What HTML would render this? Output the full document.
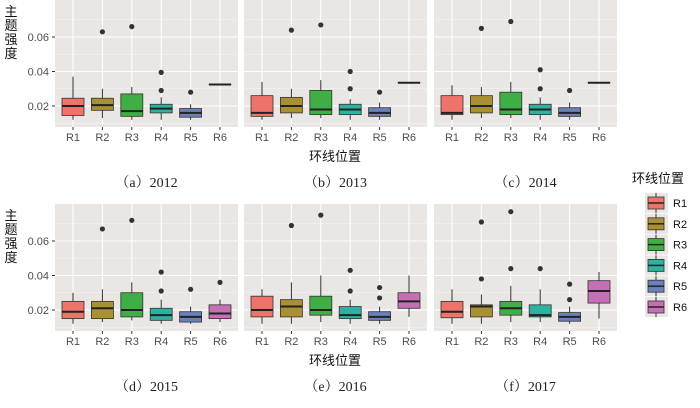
<!DOCTYPE html>
<html><head><meta charset="utf-8"><style>
body{margin:0;background:#fff;width:700px;height:403px;overflow:hidden}
svg text{font-family:"Liberation Sans","Noto Sans CJK SC",sans-serif}
</style></head><body>
<svg id="s" width="700" height="403" xmlns="http://www.w3.org/2000/svg"></svg>
<script>
const S=document.getElementById('s');let h='';
const cols=['#ee736b','#a99033','#3fae45','#2bb3a0','#6a80b8','#c56fb5'];
const px=[55,244,434],pw=183;
const data=[
[[.012,.0145,.020,.0245,.037,[]],[.013,.0175,.0205,.0245,.030,[.063]],[.012,.014,.017,.027,.031,[.066]],[.012,.016,.0185,.021,.025,[.029,.0395]],[.012,.0135,.016,.0185,.021,[.028]],[.0325,.0325,.0325,.0325,.0325,[]]],
[[.012,.014,.016,.026,.034,[]],[.013,.016,.020,.025,.030,[.064]],[.013,.015,.018,.029,.035,[.067]],[.012,.015,.018,.021,.024,[.030,.040]],[.012,.014,.016,.019,.022,[.028]],[.0335,.0335,.0335,.0335,.0335,[]]],
[[.012,.015,.016,.026,.032,[]],[.013,.016,.020,.026,.031,[.065]],[.013,.015,.018,.028,.034,[.069]],[.012,.015,.018,.021,.025,[.030,.041]],[.012,.014,.016,.019,.022,[.029]],[.0335,.0335,.0335,.0335,.0335,[]]],
[[.012,.015,.019,.025,.030,[]],[.013,.015,.021,.025,.032,[.067]],[.014,.016,.020,.030,.036,[.072]],[.012,.014,.017,.021,.026,[.031,.042]],[.012,.013,.016,.019,.022,[.032]],[.013,.015,.018,.023,.026,[.036]]],
[[.012,.016,.020,.028,.032,[]],[.012,.016,.022,.026,.036,[.069]],[.013,.017,.020,.028,.040,[.075]],[.012,.015,.017,.022,.026,[.031,.043]],[.012,.014,.016,.019,.022,[.027,.033]],[.016,.021,.025,.030,.040,[]]],
[[.012,.0155,.019,.025,.032,[]],[.012,.016,.022,.023,.029,[.038,.071]],[.013,.017,.021,.025,.034,[.044,.077]],[.013,.016,.017,.023,.032,[.044]],[.012,.0135,.016,.0185,.022,[.026,.035]],[.015,.024,.031,.037,.042,[]]]];
const caps=['（a）2012','（b）2013','（c）2014','（d）2015','（e）2016','（f）2017'];
for(let p=0;p<6;p++){
 const r=Math.floor(p/3),c=p%3,x0=px[c],oy=r?204:0,top=oy,bot=oy+127;
 const Y=v=>oy+140.5-v*1725;
 h+=`<rect x="${x0}" y="${top}" width="${pw}" height="127" fill="#e9e6e4"/>`;
 for(const v of [.01,.03,.05,.07])h+=`<line x1="${x0}" x2="${x0+pw}" y1="${Y(v)}" y2="${Y(v)}" stroke="#f6f4f3" stroke-width=".6"/>`;
 for(const v of [.02,.04,.06])h+=`<line x1="${x0}" x2="${x0+pw}" y1="${Y(v)}" y2="${Y(v)}" stroke="#fff" stroke-width="1.1"/>`;
 const cx=i=>x0+18+i*29.4;
 for(let i=0;i<6;i++){h+=`<line x1="${cx(i)}" x2="${cx(i)}" y1="${top}" y2="${bot}" stroke="#fff" stroke-width="1.1"/>`;
  h+=`<line x1="${cx(i)}" x2="${cx(i)}" y1="${bot}" y2="${bot+3}" stroke="#333"/>`;
  h+=`<text x="${cx(i)}" y="${bot+14}" font-size="11" fill="#4d4d4d" text-anchor="middle">R${i+1}</text>`;}
 data[p].forEach((d,i)=>{const x=cx(i);
  h+=`<line x1="${x}" x2="${x}" y1="${Y(d[0])}" y2="${Y(d[4])}" stroke="#333" stroke-width="1"/>`;
  h+=`<rect x="${x-11}" y="${Y(d[3])}" width="22" height="${Math.max(Y(d[1])-Y(d[3]),.1)}" fill="${cols[i]}" stroke="#333" stroke-width=".8"/>`;
  h+=`<line x1="${x-11}" x2="${x+11}" y1="${Y(d[2])}" y2="${Y(d[2])}" stroke="#222" stroke-width="2"/>`;
  d[5].forEach(o=>h+=`<circle cx="${x}" cy="${Y(o)}" r="2.6" fill="#333"/>`);});
 if(c==0){for(const v of [.02,.04,.06]){h+=`<text x="49" y="${Y(v)+4}" font-size="11" fill="#4d4d4d" text-anchor="end">${v.toFixed(2)}</text><line x1="52" x2="55" y1="${Y(v)}" y2="${Y(v)}" stroke="#333"/>`;}
  ['主','题','强','度'].forEach((ch,k)=>h+=`<text x="11" y="${oy+16+k*14}" font-size="13" fill="#111" text-anchor="middle">${ch}</text>`);}
 h+=`<text x="${x0+pw/2}" y="${oy+187}" font-size="14" fill="#222" text-anchor="middle" style="font-family:'Liberation Serif','Noto Serif CJK SC',serif">${caps[p]}</text>`;
}
h+=`<text x="335" y="161" font-size="13" text-anchor="middle" fill="#111">环线位置</text>`;
h+=`<text x="335" y="365" font-size="13" text-anchor="middle" fill="#111">环线位置</text>`;
h+=`<text x="632" y="183" font-size="13" fill="#111">环线位置</text>`;
for(let i=0;i<6;i++){const y=203+i*20.8;
 h+=`<rect x="645" y="${y-10}" width="23" height="20" fill="#e9e6e4"/>`;
 h+=`<line x1="656" x2="656" y1="${y-10}" y2="${y+10}" stroke="#333"/>`;
 h+=`<rect x="648" y="${y-6}" width="16" height="12" fill="${cols[i]}" stroke="#333" stroke-width=".8"/>`;
 h+=`<line x1="648" x2="664" y1="${y}" y2="${y}" stroke="#222" stroke-width="1.5"/>`;
 h+=`<text x="673" y="${y+4}" font-size="11" fill="#111">R${i+1}</text>`;}
S.innerHTML=h;
</script>
</body></html>
